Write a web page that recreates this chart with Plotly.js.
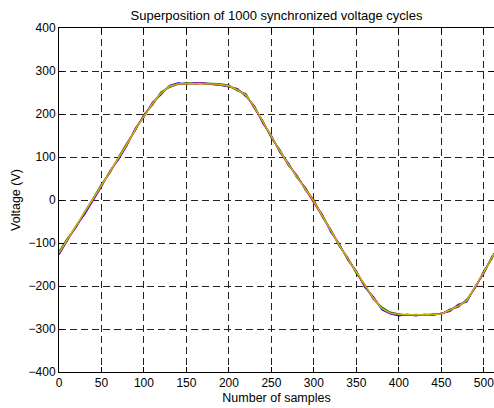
<!DOCTYPE html>
<html>
<head>
<meta charset="utf-8">
<script src="https://cdn.plot.ly/plotly-3.0.1.min.js"></script>
<style>html,body{margin:0;padding:0;background:#fff;}#chart{width:494px;height:408px;}</style>
</head>
<body>
<div id="chart"></div>
<script>
// sample indices
const samples = [0,10,20,30,40,50,60,70,80,90,100,110,120,130,140,150,160,170,180,190,200,210,220,230,240,250,260,270,280,290,300,310,320,330,340,350,360,370,380,390,400,410,420,430,440,450,460,470,480,490,500,510,512];
// a few of the superposed cycles (voltage, V)
const cycleBlue = [-127,-95,-60,-34,-3,31,68,94,127,167,193,227,245,266,272,270,273,271,269,267,263,259,241,219,178,150,111,86,52,29,-6,-34,-75,-102,-140,-165,-203,-225,-255,-265,-269,-266,-269,-266,-268,-264,-259,-243,-237,-200,-171,-130,-129];
const cycleGreen = [-120,-89,-64,-28,3,37,63,100,133,162,199,221,251,262,269,273,270,272,271,270,267,254,247,213,184,144,117,80,58,23,0,-40,-69,-108,-134,-171,-197,-231,-249,-261,-265,-268,-266,-268,-265,-266,-254,-249,-231,-204,-165,-136,-123];
const cycleRed = [-124,-93,-61,-32,1,33,67,96,131,164,197,223,249,265,270,271,271,270,270,268,265,257,243,217,180,148,113,84,54,27,-2,-36,-73,-104,-138,-167,-201,-227,-253,-263,-266,-267,-267,-267,-266,-265,-257,-245,-235,-202,-169,-132,-127];
const cycleMagenta = [-125,-91,-63,-30,-1,35,65,98,129,166,195,225,247,264,271,270,271,272,269,268,264,256,245,215,182,146,115,82,56,25,-4,-38,-71,-106,-136,-169,-199,-229,-251,-264,-267,-266,-268,-266,-267,-264,-256,-247,-233,-204,-167,-134,-125];
const cycleOlive = [-123,-92,-62,-31,0,34,66,97,130,165,196,224,248,264,270,271,271,270,270,268,265,256,244,216,181,147,114,83,55,26,-3,-37,-72,-105,-137,-168,-200,-228,-252,-263,-266,-267,-267,-267,-266,-265,-256,-246,-234,-202,-168,-133,-126];
const xTicks = [0,50,100,150,200,250,300,350,400,450,500];
const yTicks = [-400,-300,-200,-100,0,100,200,300,400];

const series = [
  {y: cycleBlue, color: '#0000ff'},
  {y: cycleGreen, color: '#008000'},
  {y: cycleRed, color: '#ff0000'},
  {y: cycleMagenta, color: '#bf00bf'},
  {y: cycleOlive, color: '#bfbf00'}
];
const traces = series.map(s => ({
  x: samples, y: s.y, type: 'scatter', mode: 'lines',
  line: {color: s.color, width: 1.4}, hoverinfo: 'skip', showlegend: false
}));

const tickFont = {family: 'Liberation Sans, Arial, sans-serif', size: 12, color: '#000'};
const labelFont = {family: 'Liberation Sans, Arial, sans-serif', size: 12.5, color: '#000'};
const titleFont = {family: 'Liberation Sans, Arial, sans-serif', size: 13, color: '#000'};
const axisCommon = {
  showgrid: true, gridcolor: '#222', gridwidth: 1, griddash: '7px,4px',
  ticks: 'inside', ticklen: 5, tickwidth: 1, tickcolor: '#000',
  showline: true, linecolor: '#000', linewidth: 1, mirror: 'allticks',
  zeroline: false, tickfont: tickFont, ticklabeloverflow: 'allow'
};
const layout = {
  width: 494, height: 408,
  margin: {l: 59, r: 0, t: 28, b: 36},
  paper_bgcolor: '#fff', plot_bgcolor: '#fff',
  font: tickFont,
  title: {text: 'Superposition of 1000 synchronized voltage cycles', font: titleFont,
          x: 0.5, xref: 'paper', xanchor: 'center', y: 0.963, yref: 'container', yanchor: 'middle'},
  xaxis: Object.assign({}, axisCommon, {
    range: [0, 512], tickmode: 'array', tickvals: xTicks,
    title: {text: 'Number of samples', font: labelFont, standoff: 3}
  }),
  yaxis: Object.assign({}, axisCommon, {
    range: [-400, 400], tickmode: 'array', tickvals: yTicks,
    title: {text: 'Voltage (V)', font: labelFont, standoff: 5}
  }),
  showlegend: false
};
Plotly.newPlot('chart', traces, layout, {displayModeBar: false, staticPlot: true});
</script>
</body>
</html>
